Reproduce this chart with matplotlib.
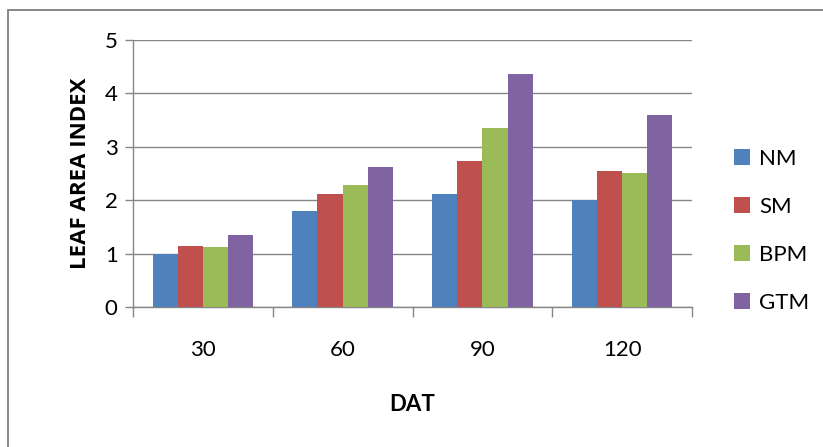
import matplotlib
matplotlib.use("Agg")
import matplotlib.pyplot as plt
import numpy as np
from matplotlib.patches import Rectangle

categories = ["30", "60", "90", "120"]
series_names = ["NM", "SM", "BPM", "GTM"]
NM = [1.00, 1.79, 2.11, 2.01]
SM = [1.15, 2.11, 2.73, 2.54]
BPM = [1.12, 2.28, 3.35, 2.51]
GTM = [1.34, 2.62, 4.36, 3.59]
colors = ["#4F81BD", "#C0504D", "#9BBB59", "#8064A2"]
yticks = [0, 1, 2, 3, 4, 5]

plt.rcParams['font.family'] = ['Lato', 'DejaVu Sans']

W, H = 823, 447
fig = plt.figure(figsize=(W/100, H/100), dpi=100)
fig.patches.append(Rectangle((8/W, -0.1), 1.2, (H-10)/H + 0.1, transform=fig.transFigure,
                             fill=False, edgecolor="#7f7f7f", linewidth=1.3))

ax = fig.add_axes([133/W, 1-307/H, (692-133)/W, (307-40)/H])
x = np.arange(len(categories))
bw = 0.18
data = [NM, SM, BPM, GTM]
for i, (name, vals, c) in enumerate(zip(series_names, data, colors)):
    ax.bar(x + (i - 1.5)*bw, vals, bw, color=c, label=name, zorder=3)

ax.set_xlim(-0.5, len(categories)-0.5)
ax.set_ylim(0, 5)
ax.set_yticks(yticks)
ax.set_yticklabels([str(t) for t in yticks], fontsize=16)
ax.set_xticks(x)
ax.set_xticklabels(categories, fontsize=16)
ax.tick_params(axis='x', length=0, pad=24)
ax.set_xticks(np.arange(-0.5, len(categories)), minor=True)
ax.tick_params(axis='x', which='minor', length=7, color="#868686", width=1)
ax.tick_params(axis='y', length=6, color="#868686", width=1, pad=5)
ax.grid(axis='y', color="#868686", linewidth=1, zorder=0)
for s in ['top', 'right']:
    ax.spines[s].set_visible(False)
for s in ['left', 'bottom']:
    ax.spines[s].set_color("#868686")
    ax.spines[s].set_linewidth(1)

ax.set_ylabel("LEAF AREA INDEX", fontsize=16, fontweight='bold', family=['Open Sans', 'DejaVu Sans'], labelpad=10)
ax.set_xlabel("DAT", fontsize=16, fontweight='bold', labelpad=24)

leg = ax.legend(loc='center left', bbox_to_anchor=(1.04, 0.285), frameon=False, fontsize=16,
                handlelength=0.7, handleheight=0.7, handletextpad=0.4, labelspacing=1.26)

fig.savefig("out.png", dpi=100)
